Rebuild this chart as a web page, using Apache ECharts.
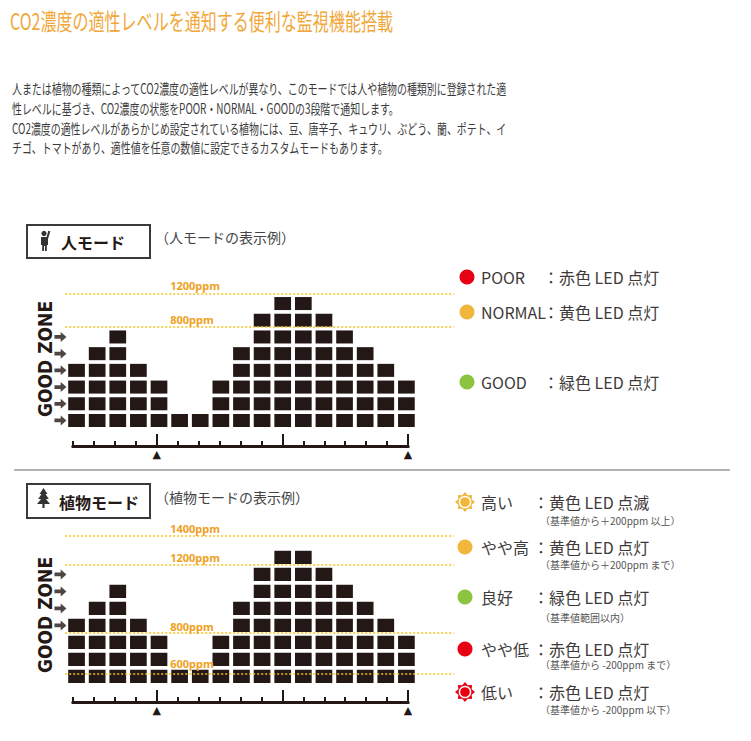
<!DOCTYPE html>
<html lang="ja">
<head>
<meta charset="UTF-8">
<title>CO2濃度の適性レベル</title>
<script src="https://cdn.jsdelivr.net/npm/echarts@6/dist/echarts.min.js"></script>
<style>
    html, body { margin: 0; padding: 0; background: #fff; }
    #main { width: 751px; height: 741px; }
</style>
</head>
<body>
<div id="main"></div>
<script>
// ---- texts ----
var titleText = 'CO2濃度の適性レベルを通知する便利な監視機能搭載';
var introLines = [
    '人または植物の種類によってCO2濃度の適性レベルが異なり、このモードでは人や植物の種類別に登録された適',
    '性レベルに基づき、CO2濃度の状態をPOOR・NORMAL・GOODの3段階で通知します。',
    'CO2濃度の適性レベルがあらかじめ設定されている植物には、豆、唐辛子、キュウリ、ぶどう、蘭、ポテト、イ',
    'チゴ、トマトがあり、適性値を任意の数値に設定できるカスタムモードもあります。'
];

// ---- block columns (number of LED blocks per column) ----
var humanBlocks = [4, 5, 6, 4, 3, 1, 1, 3, 5, 7, 8, 8, 7, 6, 5, 4, 3];
var plantBlocks = [4, 5, 6, 4, 3, 1, 1, 3, 5, 7, 8, 8, 7, 6, 5, 4, 3];
// rows marked with an arrow (good zone), 0 = bottom row
var humanGoodRows = [0, 1, 2, 3, 4, 5];
var plantGoodRows = [3, 4, 5, 6];
// threshold lines, in block rows
var humanLevels = [8, 6];
var humanLevelNames = ['1200ppm', '800ppm'];
var plantLevels = [8.65, 6.95, 2.95, 0.55];
var plantLevelNames = ['1400ppm', '1200ppm', '800ppm', '600ppm'];
// ruler under the blocks
var rulerSlots = ['1','2','3','4','5','6','7','8','9','10','11','12','13','14','15','16','17'];
var bigTicks = [4, 10, 16];
var markerTicks = [4, 16];

// ---- legends ----
var humanLegendNames = ['POOR', 'NORMAL', 'GOOD'];
var humanLegendDesc = ['赤色 LED 点灯', '黄色 LED 点灯', '緑色 LED 点灯'];
var humanLegendColors = ['#e60012', '#f0b73c', '#8cc43f'];
var plantLegendNames = ['高い', 'やや高', '良好', 'やや低', '低い'];
var plantLegendDesc = ['黄色 LED 点滅', '黄色 LED 点灯', '緑色 LED 点灯', '赤色 LED 点灯', '赤色 LED 点灯'];
var plantLegendNotes = ['（基準値から＋200ppm 以上）', '（基準値から＋200ppm まで）', '（基準値範囲以内）', '（基準値から -200ppm まで）', '（基準値から -200ppm 以下）'];
var plantLegendColors = ['#f0b73c', '#f0b73c', '#8cc43f', '#e60012', '#e60012'];
var plantLegendBlink = [true, false, false, false, true];

var JP = '"Noto Sans CJK JP", sans-serif';
var INK = '#231815';
var LINE = '#f3c21b';
var PPM = '#f0a020';

var myChart = echarts.init(document.getElementById('main'), null, {renderer: 'svg'});

function blockItem(params, api) {
    var col = api.value(0), n = api.value(1);
    var w = api.size([0.81, 0])[0];
    var kids = [];
    for (var r = 0; r < n; r++) {
        var b = api.coord([col, r]);
        var t = api.coord([col, r + 0.78]);
        kids.push({
            type: 'rect',
            shape: {x: b[0] - w / 2, y: t[1], width: w, height: b[1] - t[1]},
            style: {fill: INK}
        });
    }
    return {type: 'group', children: kids};
}

function txt(x, y, text, size, font, fill, extra) {
    var el = {
        type: 'text', x: x, y: y, silent: true,
        style: {text: text, font: font, fill: fill, lineHeight: size,
            textAlign: 'left', align: 'left', textVerticalAlign: 'middle', verticalAlign: 'middle'}
    };
    for (var k in extra) el[k] = extra[k];
    return el;
}

function sun(cx, cy, color) {
    var pts = [];
    for (var i = 0; i < 16; i++) {
        var a = i * Math.PI / 8;
        var rr = i % 2 === 0 ? 10 : 7.2;
        pts.push([cx + rr * Math.cos(a), cy + rr * Math.sin(a)]);
    }
    return [
        {type: 'polygon', shape: {points: pts}, style: {fill: color}, silent: true},
        {type: 'circle', shape: {cx: cx, cy: cy, r: 6.3}, style: {fill: '#fff'}, silent: true},
        {type: 'circle', shape: {cx: cx, cy: cy, r: 4.8}, style: {fill: color}, silent: true}
    ];
}

var graphics = [];
graphics.push(txt(10, 20, titleText, 23, '23px ' + JP, '#f0a83a', {scaleX: 0.697}));
introLines.forEach(function (line, i) {
    graphics.push(txt(12, 88 + i * 19.7, line, 14, '14px ' + JP, '#3c3c3c', {scaleX: 0.71}));
});

// mode boxes
graphics.push({type: 'rect', shape: {x: 27, y: 225, width: 123, height: 33}, style: {fill: 'none', stroke: '#3a3a3a', lineWidth: 2}, silent: true});
graphics.push({type: 'rect', shape: {x: 27, y: 484, width: 123, height: 34}, style: {fill: 'none', stroke: '#3a3a3a', lineWidth: 2}, silent: true});
graphics.push(txt(61, 242, '人モード', 16, 'bold 16px ' + JP, INK));
graphics.push(txt(59, 502, '植物モード', 16, 'bold 16px ' + JP, INK));
graphics.push(txt(155, 237, '（人モードの表示例）', 14, '14px ' + JP, '#444'));
graphics.push(txt(155, 497, '（植物モードの表示例）', 14, '14px ' + JP, '#444'));
// person icon
graphics.push({type: 'circle', shape: {cx: 44, cy: 233.5, r: 2.6}, style: {fill: '#333'}, silent: true});
graphics.push({type: 'polygon', shape: {points: [[41, 237], [48, 237], [48, 245], [46.8, 245], [46.8, 251], [45, 251], [45, 246], [44, 246], [44, 251], [42.2, 251], [42.2, 245], [41, 245]]}, style: {fill: '#333'}, silent: true});
graphics.push({type: 'line', shape: {x1: 47.3, y1: 238, x2: 49.3, y2: 231}, style: {stroke: '#333', lineWidth: 2}, silent: true});
// tree icon
graphics.push({type: 'polygon', shape: {points: [[43.5, 488], [47.5, 494], [39.5, 494]]}, style: {fill: '#333'}, silent: true});
graphics.push({type: 'polygon', shape: {points: [[43.5, 491], [48.8, 499], [38.2, 499]]}, style: {fill: '#333'}, silent: true});
graphics.push({type: 'polygon', shape: {points: [[43.5, 496], [50, 504], [37, 504]]}, style: {fill: '#333'}, silent: true});
graphics.push({type: 'rect', shape: {x: 42.4, y: 503, width: 2.2, height: 5}, style: {fill: '#333'}, silent: true});

// divider
graphics.push({type: 'line', shape: {x1: 14, y1: 470, x2: 730, y2: 470}, style: {stroke: '#666', lineWidth: 1}, silent: true});

// GOOD ZONE
[359, 615].forEach(function (cy) {
    var el = txt(45, cy, 'GOOD ZONE', 19, 'bold 19px "DejaVu Sans Condensed", "DejaVu Sans", sans-serif', INK, {rotation: Math.PI / 2});
    el.style.textAlign = el.style.align = 'center';
    graphics.push(el);
});

// legend for human mode
var humanLegendY = [277, 312, 382];
humanLegendNames.forEach(function (name, i) {
    var y = humanLegendY[i];
    graphics.push({type: 'circle', shape: {cx: 467, cy: y, r: 7.5}, style: {fill: humanLegendColors[i]}, silent: true});
    graphics.push(txt(481, y, name, 16, '16px ' + JP, '#3e3a39'));
    graphics.push(txt(543, y, '：' + humanLegendDesc[i], 16, '16px ' + JP, '#3e3a39'));
});

// legend for plant mode
var plantLegendY = [502, 547, 597, 649, 692];
var plantNoteY = [520, 564, 617, 664, 709];
plantLegendNames.forEach(function (name, i) {
    var y = plantLegendY[i];
    if (plantLegendBlink[i]) {
        graphics = graphics.concat(sun(465, y, plantLegendColors[i]));
    } else {
        graphics.push({type: 'circle', shape: {cx: 465, cy: y, r: 7.5}, style: {fill: plantLegendColors[i]}, silent: true});
    }
    graphics.push(txt(481, y, name, 16, '16px ' + JP, '#3e3a39'));
    graphics.push(txt(533, y, '：' + plantLegendDesc[i], 16, '16px ' + JP, '#3e3a39'));
    graphics.push(txt(540, plantNoteY[i], plantLegendNotes[i], 10, '10px ' + JP, '#555'));
});

function rulerAxes(gridIndex) {
    return [{
        type: 'category', gridIndex: gridIndex, data: rulerSlots, position: 'bottom',
        boundaryGap: false,
        axisLine: {onZero: false, lineStyle: {color: INK, width: 3}},
        axisTick: {inside: true, length: 5, interval: 0, lineStyle: {color: INK, width: 2}},
        axisLabel: {show: false}, splitLine: {show: false}
    }, {
        type: 'category', gridIndex: gridIndex, data: rulerSlots, position: 'bottom',
        boundaryGap: false,
        axisLine: {onZero: false, lineStyle: {color: INK, width: 3}},
        axisTick: {
            inside: true, length: 12, lineStyle: {color: INK, width: 2},
            interval: function (index) { return bigTicks.indexOf(index) >= 0; }
        },
        axisLabel: {
            show: true, margin: 3, color: INK, fontSize: 11, fontFamily: 'DejaVu Sans',
            interval: function (index) { return markerTicks.indexOf(index) >= 0; },
            formatter: function () { return '▲'; }
        },
        splitLine: {show: false}
    }];
}

function levelLines(levels, names, labelDy) {
    return levels.map(function (v, i) {
        return [{
            coord: [-0.55, v], name: names[i],
            label: {distance: [105, labelDy[i]]}
        }, {coord: [18.3, v]}];
    });
}

var blockX = {type: 'value', min: -1.53, max: 18.6, show: false};
var arrowPath = 'path://M0,33L52,33L52,5L100,50L52,95L52,67L0,67Z';

myChart.setOption({
    animation: false,
    graphic: graphics,
    grid: [
        {left: 45, top: 280, width: 415, height: 147, outerBoundsMode: 'none'},
        {left: 73, top: 430, width: 335, height: 16, outerBoundsMode: 'none'},
        {left: 45, top: 520, width: 415, height: 163, outerBoundsMode: 'none'},
        {left: 73, top: 686, width: 335, height: 16, outerBoundsMode: 'none'}
    ],
    xAxis: [
        Object.assign({gridIndex: 0}, blockX)
    ].concat(rulerAxes(1)).concat([
        Object.assign({gridIndex: 2}, blockX)
    ]).concat(rulerAxes(3)),
    yAxis: [
        {type: 'value', gridIndex: 0, min: 0, max: 8.8, show: false},
        {type: 'value', gridIndex: 1, show: false},
        {type: 'value', gridIndex: 2, min: 0, max: 9.59, show: false},
        {type: 'value', gridIndex: 3, show: false}
    ],
    series: [{
        name: '人モード',
        type: 'custom', xAxisIndex: 0, yAxisIndex: 0, z: 2,
        renderItem: blockItem,
        data: humanBlocks.map(function (v, i) { return [i, v]; })
    }, {
        name: '人モード GOOD ZONE',
        type: 'scatter', xAxisIndex: 0, yAxisIndex: 0, z: 5,
        symbol: arrowPath,
        symbolSize: [12, 10], itemStyle: {color: INK}, silent: true,
        data: humanGoodRows.map(function (r) { return [-0.78, r + 0.39]; }),
        markLine: {
            silent: true, symbol: ['none', 'none'],
            lineStyle: {type: [2, 2], color: LINE, width: 1.5},
            label: {position: 'insideStartTop', formatter: '{b}', color: PPM, fontSize: 11, fontWeight: 'bold', fontFamily: 'Noto Sans'},
            data: levelLines(humanLevels, humanLevelNames, [2, 2])
        }
    }, {
        name: '植物モード',
        type: 'custom', xAxisIndex: 3, yAxisIndex: 2, z: 2,
        renderItem: blockItem,
        data: plantBlocks.map(function (v, i) { return [i, v]; })
    }, {
        name: '植物モード GOOD ZONE',
        type: 'scatter', xAxisIndex: 3, yAxisIndex: 2, z: 5,
        symbol: arrowPath,
        symbolSize: [12, 10], itemStyle: {color: INK}, silent: true,
        data: plantGoodRows.map(function (r) { return [-0.78, r + 0.39]; }),
        markLine: {
            silent: true, symbol: ['none', 'none'],
            lineStyle: {type: [2, 2], color: LINE, width: 1.5},
            label: {position: 'insideStartTop', formatter: '{b}', color: PPM, fontSize: 11, fontWeight: 'bold', fontFamily: 'Noto Sans'},
            data: levelLines(plantLevels, plantLevelNames, [2, 2, 1, 5])
        }
    }]
});
</script>
</body>
</html>
